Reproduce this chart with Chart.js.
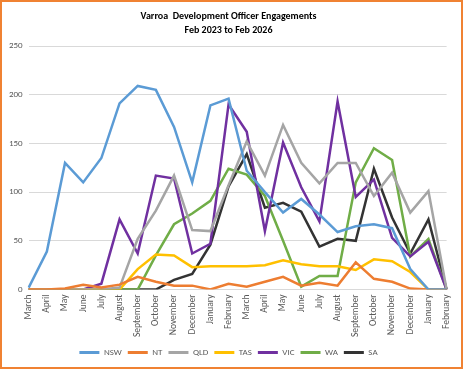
<!DOCTYPE html>
<html><head><meta charset="utf-8">
<script src="https://cdn.jsdelivr.net/npm/chart.js@4.4.1/dist/chart.umd.min.js"></script>
<style>
html,body{margin:0;padding:0;background:#fff;}
#wrap{position:relative;width:463px;height:369px;}
canvas{display:block;}
</style></head>
<body>
<div id="wrap"><canvas id="c" width="463" height="369"></canvas></div>
<script>
const months = ["March","April","May","June","July","August","September","October","November","December","January","February","March","April","May","June","July","August","September","October","November","December","January","February"];
const yTicks = [0,50,100,150,200,250];
const titleLines = ["Varroa  Development Officer Engagements","Feb 2023 to Feb 2026"];
const NSW = [2,39,130,110,135,191,209,205,167,110,189,196,122,100,79,93,77,59,65,67,63,21,0,0];
const NT  = [0,0,1,5,2,5,13,8,4,4,0,6,3,8,13,4,7,4,28,11,8,1,0,0];
const QLD = [0,0,0,0,0,2,52,81,117,61,60,107,152,117,169,130,109,130,130,96,120,79,101,0];
const TAS = [0,0,0,0,0,0,21,36,35,23,24,24,24,25,30,26,24,24,20,31,29,18,0,0];
const VIC = [0,0,0,0,6,72,37,117,114,37,47,190,162,60,151,105,70,193,95,113,53,34,49,0];
const WA  = [0,0,0,0,0,0,0,35,67,78,91,124,118,96,50,3,14,14,110,145,133,34,52,0];
const SA  = [0,0,0,0,0,0,0,0,10,16,46,106,139,84,89,80,44,52,50,124,74,37,72,0];

const FONT = "Carlito, 'Liberation Sans Narrow', 'Liberation Sans', sans-serif";
function ds(label, data, color){
  return {label, data, borderColor: color, backgroundColor: color, borderWidth: 2.5,
    pointRadius: 0, tension: 0, fill: false};
}
const borderPlugin = {
  id:'border',
  afterDraw(chart){
    const ctx = chart.ctx;
    ctx.save();
    ctx.strokeStyle = '#F08232';
    ctx.lineWidth = 2;
    ctx.strokeRect(1,1,chart.width-2,chart.height-2);
    ctx.restore();
  }
};
new Chart(document.getElementById('c'), {
  type:'line',
  data:{labels: months, datasets:[
    ds('NSW', NSW, '#5B9BD5'),
    ds('NT', NT, '#ED7D31'),
    ds('QLD', QLD, '#A5A5A5'),
    ds('TAS', TAS, '#FFC000'),
    ds('VIC', VIC, '#7030A0'),
    ds('WA', WA, '#70AD47'),
    ds('SA', SA, '#333333')
  ]},
  options:{
    responsive:false, animation:false,
    layout:{padding:{left:3,right:9,top:6,bottom:2}},
    plugins:{
      title:{display:true, text:titleLines, color:'#000',
        font:{family:FONT, size:10, weight:'bold', lineHeight:1.35}, padding:{top:4,bottom:9}},
      legend:{position:'bottom', labels:{
        font:{family:FONT, size:9}, color:'#595959', boxWidth:20, boxHeight:3, padding:6,
        generateLabels(chart){
          return chart.data.datasets.map((d,i)=>({text:d.label, fillStyle:d.borderColor, strokeStyle:d.borderColor, lineWidth:0, datasetIndex:i, fontColor:'#595959'}));
        }
      }},
      tooltip:{enabled:false}
    },
    scales:{
      x:{offset:false, grid:{display:false, drawTicks:false}, border:{color:'#d9d9d9'},
        ticks:{autoSkip:false, minRotation:90, maxRotation:90, padding:5, color:'#595959', font:{family:FONT, size:9.5}}},
      y:{min:0, max:250, grid:{color:'#d9d9d9', drawTicks:false}, border:{display:false},
        afterBuildTicks(s){ s.ticks = yTicks.map(v=>({value:v})); },
        ticks:{padding:6, color:'#595959', font:{family:FONT, size:9}}}
    }
  },
  plugins:[borderPlugin]
});
</script>
</body></html>
